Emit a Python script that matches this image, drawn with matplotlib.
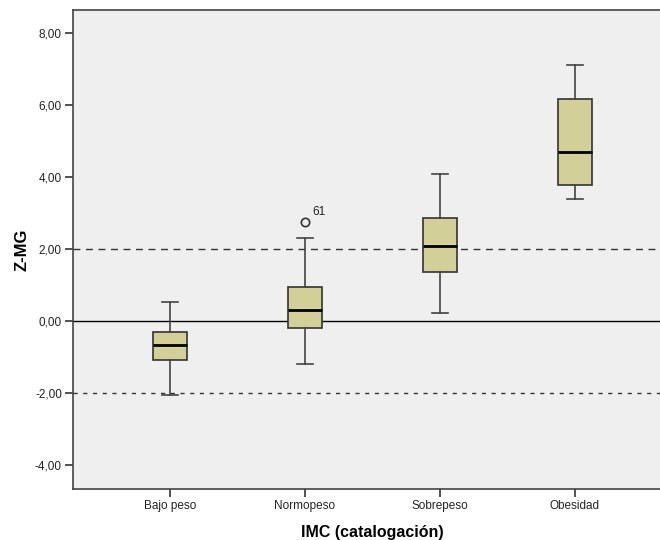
import matplotlib.pyplot as plt

plt.rcParams['font.family'] = ['Liberation Sans', 'DejaVu Sans']

# Z-MG por categoría de IMC (resumen de cada caja)
categorias = ['Bajo peso', 'Normopeso', 'Sobrepeso', 'Obesidad']
bigote_inf = [-2.05, -1.19, 0.21, 3.40]
q1 = [-1.09, -0.20, 1.35, 3.78]
mediana = [-0.66, 0.31, 2.08, 4.69]
q3 = [-0.30, 0.94, 2.85, 6.16]
bigote_sup = [0.54, 2.31, 4.08, 7.11]
atipicos = [[], [2.76], [], []]
etiquetas_atipicos = [[], ['61'], [], []]

yticks = [-4, -2, 0, 2, 4, 6, 8]

stats = []
for i, cat in enumerate(categorias):
    stats.append({
        'label': cat,
        'whislo': bigote_inf[i],
        'q1': q1[i],
        'med': mediana[i],
        'q3': q3[i],
        'whishi': bigote_sup[i],
        'fliers': atipicos[i],
    })

fig = plt.figure(figsize=(6.6, 5.4), dpi=100)
ax = fig.add_axes([73 / 660, 51 / 540, 599 / 660, 479 / 540])
ax.set_facecolor('#efefef')

# líneas de referencia
ax.axhline(0, color='black', lw=1.0, zorder=1)
ax.axhline(2, color='#333333', lw=1.0, ls=(0, (5, 4)), zorder=1)
ax.axhline(-2, color='#333333', lw=1.0, ls=(0, (3, 4)), zorder=1)

ax.bxp(stats, positions=range(1, 5), widths=0.25, patch_artist=True,
       capwidths=0.12,
       boxprops=dict(facecolor='#d3cf98', edgecolor='#333333', lw=1.2),
       medianprops=dict(color='black', lw=2.0),
       whiskerprops=dict(color='#444444', lw=1.2),
       capprops=dict(color='#444444', lw=1.2),
       flierprops=dict(marker='o', markersize=6, markerfacecolor='none',
                       markeredgecolor='#333333', markeredgewidth=1.2),
       zorder=3)

for i, vals in enumerate(atipicos):
    for v, txt in zip(vals, etiquetas_atipicos[i]):
        ax.annotate(txt, (i + 1, v), xytext=(5, 5), textcoords='offset points',
                    fontsize=8.5, color='#222222')

ax.set_xlim(0.28, 4.72)
ax.set_ylim(-4.67, 8.64)
ax.set_yticks(yticks)
ax.set_yticklabels([f'{t:.2f}'.replace('.', ',') for t in yticks])
ax.set_xticks(range(1, 5))
ax.set_xticklabels(categorias)
ax.tick_params(axis='both', labelsize=8.5, labelcolor='#222222', length=6,
               width=1.2, color='#333333', pad=2)

for side in ['left', 'bottom', 'top']:
    ax.spines[side].set_color('#444444')
    ax.spines[side].set_linewidth(1.2)
ax.spines['right'].set_visible(False)

ax.set_xlabel('IMC (catalogación)', fontsize=11.5, fontweight='bold', labelpad=9)
ax.set_ylabel('Z-MG', fontsize=12, fontweight='bold', labelpad=4)

fig.savefig('out.png', dpi=100)
